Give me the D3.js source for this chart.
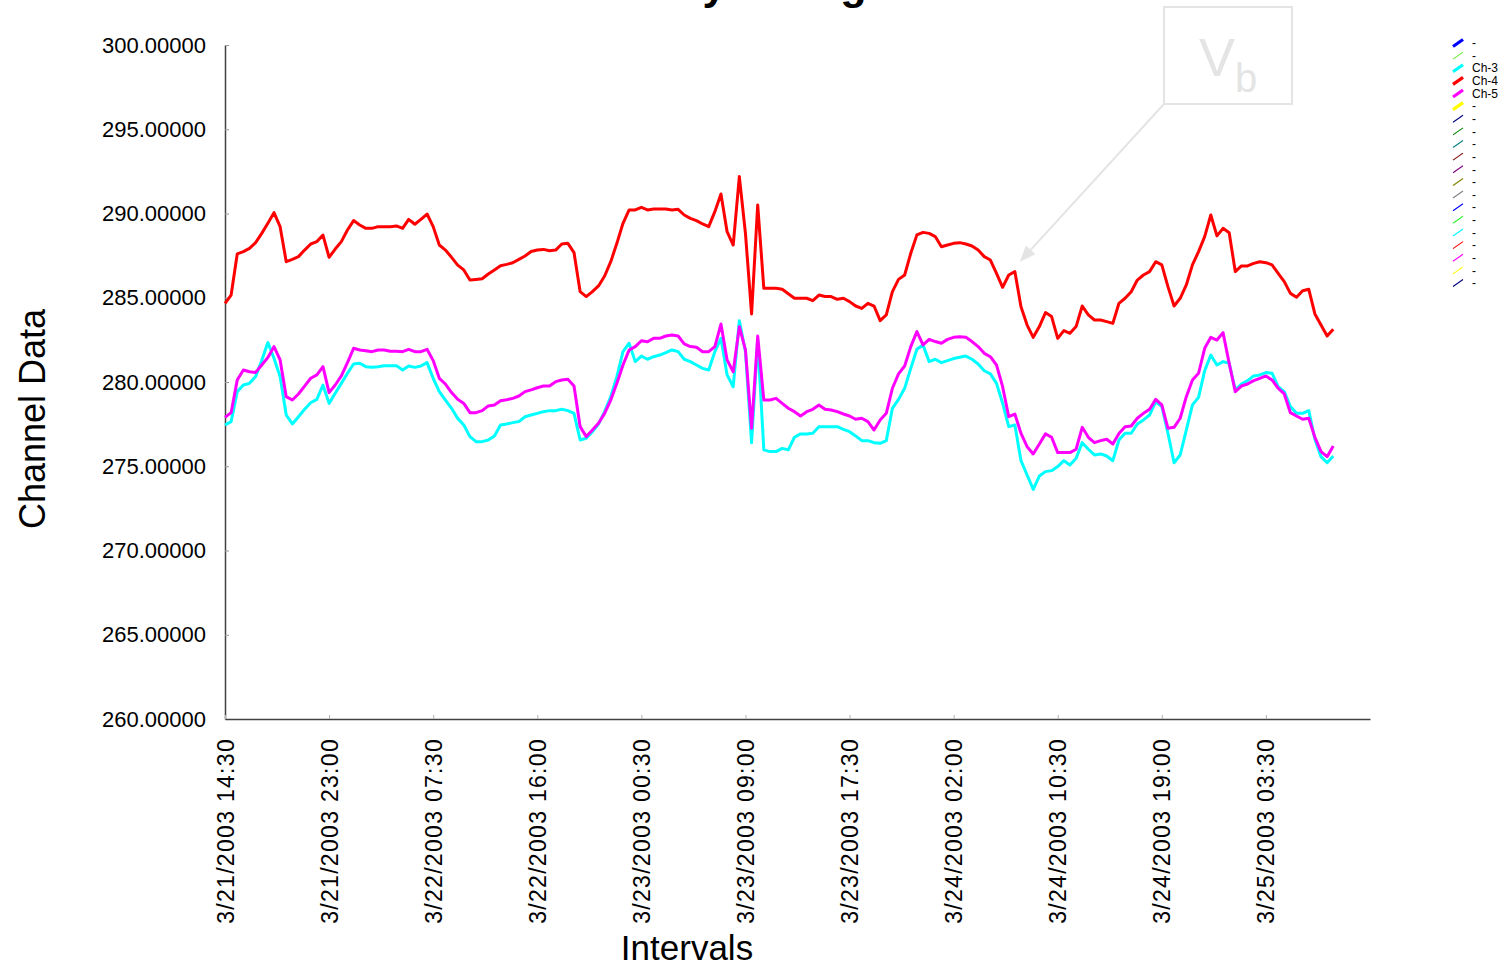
<!DOCTYPE html>
<html>
<head>
<meta charset="utf-8">
<script src="https://cdn.jsdelivr.net/npm/d3@7"></script>
<style>
  html, body { margin: 0; padding: 0; background: #ffffff; }
  svg { display: block; font-family: "Liberation Sans", Arial, sans-serif; }
</style>
</head>
<body>
<svg id="chart" width="1504" height="968"></svg>
<script>
// Half-hourly channel readings, 3/21/2003 14:30 onward
const ch4 = [
284.67, 285.16, 287.60, 287.74, 287.93, 288.27, 288.82, 289.42, 290.05, 289.22,
287.14, 287.28, 287.44, 287.83, 288.19, 288.33, 288.72, 287.40, 287.89, 288.33,
289.02, 289.58, 289.32, 289.12, 289.12, 289.22, 289.22, 289.22, 289.26, 289.12,
289.65, 289.36, 289.65, 289.97, 289.22, 288.13, 287.83, 287.40, 286.94, 286.65,
286.05, 286.09, 286.13, 286.41, 286.65, 286.90, 286.98, 287.08, 287.28, 287.48,
287.74, 287.83, 287.87, 287.79, 287.83, 288.19, 288.23, 287.68, 285.36, 285.07,
285.36, 285.70, 286.29, 287.14, 288.23, 289.42, 290.21, 290.21, 290.37, 290.21,
290.27, 290.27, 290.27, 290.21, 290.25, 289.91, 289.71, 289.58, 289.38, 289.22,
290.11, 291.16, 288.92, 288.13, 292.19, 288.82, 284.04, 290.51, 285.56, 285.56,
285.56, 285.50, 285.24, 284.97, 284.97, 284.97, 284.83, 285.16, 285.07, 285.07,
284.91, 284.97, 284.77, 284.51, 284.37, 284.67, 284.51, 283.64, 283.98, 285.36,
286.09, 286.35, 287.64, 288.73, 288.88, 288.82, 288.63, 288.03, 288.13, 288.23,
288.27, 288.19, 288.07, 287.83, 287.44, 287.24, 286.45, 285.62, 286.35, 286.55,
284.47, 283.38, 282.65, 283.29, 284.12, 283.88, 282.59, 283.05, 282.89, 283.29,
284.51, 283.98, 283.68, 283.68, 283.58, 283.48, 284.67, 284.97, 285.36, 286.05,
286.35, 286.55, 287.14, 286.95, 285.66, 284.51, 284.97, 285.76, 286.95, 287.74,
288.63, 289.91, 288.67, 289.12, 288.86, 286.55, 286.89, 286.89, 287.04, 287.14,
287.08, 286.95, 286.45, 285.96, 285.26, 285.03, 285.42, 285.50, 284.04, 283.38,
282.73, 283.13
];

const ch3 = [
277.45, 277.65, 279.43, 279.82, 279.92, 280.32, 281.27, 282.34, 281.41, 280.32,
278.04, 277.51, 277.94, 278.38, 278.77, 278.97, 279.82, 278.73, 279.33, 279.92,
280.52, 281.07, 281.11, 280.91, 280.87, 280.91, 280.97, 280.97, 280.97, 280.71,
280.95, 280.87, 280.95, 281.15, 280.22, 279.43, 278.93, 278.44, 277.84, 277.45,
276.76, 276.46, 276.46, 276.56, 276.80, 277.45, 277.51, 277.59, 277.65, 277.94,
278.04, 278.14, 278.24, 278.30, 278.30, 278.38, 278.30, 278.14, 276.56, 276.66,
277.05, 277.51, 278.24, 279.13, 280.32, 281.80, 282.30, 281.21, 281.54, 281.35,
281.50, 281.60, 281.74, 281.90, 281.80, 281.35, 281.21, 281.01, 280.81, 280.71,
281.80, 282.59, 280.42, 279.72, 283.64, 281.80, 276.40, 282.50, 275.97, 275.87,
275.87, 276.06, 275.97, 276.72, 276.92, 276.92, 276.96, 277.35, 277.35, 277.35,
277.35, 277.19, 277.05, 276.80, 276.52, 276.52, 276.40, 276.36, 276.52, 278.44,
278.97, 279.63, 280.81, 281.94, 282.20, 281.21, 281.35, 281.15, 281.27, 281.39,
281.47, 281.54, 281.35, 281.07, 280.67, 280.48, 279.92, 278.74, 277.35, 277.45,
275.33, 274.48, 273.63, 274.42, 274.68, 274.74, 274.98, 275.33, 275.08, 275.47,
276.40, 276.01, 275.67, 275.73, 275.61, 275.33, 276.56, 276.96, 276.96, 277.51,
277.75, 278.04, 278.83, 278.54, 276.96, 275.21, 275.67, 277.15, 278.64, 279.09,
280.67, 281.60, 281.01, 281.21, 281.11, 279.53, 279.88, 280.08, 280.36, 280.42,
280.56, 280.52, 279.72, 279.43, 278.54, 278.14, 278.14, 278.30, 276.60, 275.57,
275.21, 275.61
];

const ch5 = [
277.90, 278.18, 280.12, 280.71, 280.61, 280.57, 281.01, 281.45, 282.10, 281.31,
279.13, 278.93, 279.29, 279.76, 280.22, 280.42, 280.91, 279.37, 279.82, 280.36,
281.15, 282.00, 281.90, 281.86, 281.80, 281.90, 281.90, 281.82, 281.82, 281.80,
281.94, 281.80, 281.80, 281.94, 281.27, 280.22, 279.88, 279.37, 278.97, 278.73,
278.18, 278.18, 278.30, 278.58, 278.64, 278.89, 278.95, 279.03, 279.17, 279.43,
279.53, 279.66, 279.76, 279.76, 280.02, 280.12, 280.16, 279.76, 277.35, 276.76,
277.15, 277.55, 278.14, 278.93, 279.92, 281.01, 281.90, 282.10, 282.45, 282.39,
282.59, 282.59, 282.73, 282.79, 282.73, 282.26, 282.10, 282.06, 281.80, 281.80,
282.10, 283.44, 281.31, 280.61, 283.28, 281.90, 277.25, 282.73, 278.93, 278.93,
279.03, 278.73, 278.44, 278.24, 277.98, 278.24, 278.38, 278.64, 278.38, 278.34,
278.24, 278.10, 277.98, 277.79, 277.85, 277.65, 277.15, 277.75, 278.14, 279.63,
280.48, 280.95, 282.10, 282.99, 282.20, 282.53, 282.40, 282.30, 282.53, 282.65,
282.69, 282.65, 282.40, 282.10, 281.70, 281.50, 281.01, 279.72, 277.94, 278.10,
276.95, 276.16, 275.73, 276.32, 276.92, 276.72, 275.81, 275.81, 275.81, 276.01,
277.31, 276.72, 276.40, 276.52, 276.60, 276.32, 276.95, 277.35, 277.39, 277.85,
278.14, 278.38, 278.97, 278.64, 277.25, 277.31, 277.85, 279.13, 280.12, 280.52,
282.00, 282.65, 282.49, 282.93, 281.11, 279.43, 279.76, 279.88, 280.08, 280.22,
280.36, 280.12, 279.63, 279.29, 278.18, 277.98, 277.79, 277.85, 276.72, 275.87,
275.57, 276.20
];

// Category axis: one slot per half hour, a label every 17 slots
const slotCount = 187;
const tickIndex = [0, 17, 34, 51, 68, 85, 102, 119, 136, 153, 170];
const tickLabels = [
  "3/21/2003 14:30", "3/21/2003 23:00", "3/22/2003 07:30", "3/22/2003 16:00",
  "3/23/2003 00:30", "3/23/2003 09:00", "3/23/2003 17:30", "3/24/2003 02:00",
  "3/24/2003 10:30", "3/24/2003 19:00", "3/25/2003 03:30"
];
const yTicks = [260, 265, 270, 275, 280, 285, 290, 295, 300];

// Legend entries (unused channels are shown as "-")
const legendNames = ["-", "-", "Ch-3", "Ch-4", "Ch-5", "-", "-", "-", "-", "-",
                     "-", "-", "-", "-", "-", "-", "-", "-", "-", "-"];
const legendColors = ["#0000ff", "#66ee33", "#00ffff", "#ff0000", "#ff00ff", "#ffff00",
                      "#000080", "#008000", "#008080", "#800000", "#800080", "#808000",
                      "#808080", "#0000ff", "#33ee33", "#00ffff", "#ff0000", "#ff00ff",
                      "#ffff00", "#000080"];
const legendHeavy = [true, false, true, true, true, true, false, false, false, false,
                     false, false, false, false, false, false, false, false, false, false];

const svg = d3.select("#chart");
const margin = { left: 225, right: 1370, top: 45, bottom: 719 };

const x = d3.scaleLinear().domain([0, slotCount]).range([margin.left, margin.right]);
const y = d3.scaleLinear().domain([260, 300]).range([margin.bottom, margin.top]);

// Title (sits partly above the page edge)
svg.append("text")
  .attr("x", 757).attr("y", -1)
  .attr("text-anchor", "middle")
  .attr("font-size", 43).attr("font-weight", "bold")
  .attr("fill", "#000")
  .text("Daily Voltage");

// Y axis
const yAxis = svg.append("g")
  .attr("transform", `translate(${margin.left},0)`)
  .call(d3.axisLeft(y).tickValues(yTicks).tickFormat(d3.format(".5f"))
    .tickSize(-4).tickSizeOuter(0).tickPadding(19));
yAxis.select(".domain").attr("stroke", "#404040").attr("stroke-width", 1.5);
yAxis.selectAll(".tick line").attr("stroke", "#9a9a9a");
yAxis.selectAll(".tick text")
  .attr("font-size", 22).attr("fill", "#000")
  .attr("font-family", "'Liberation Sans', Arial, sans-serif");

// X axis
const xAxis = svg.append("g")
  .attr("transform", `translate(0,${margin.bottom})`)
  .call(d3.axisBottom(x).tickValues(tickIndex)
    .tickFormat((d, i) => tickLabels[i])
    .tickSize(-4).tickSizeOuter(0));
xAxis.select(".domain").attr("stroke", "#404040").attr("stroke-width", 1.5);
xAxis.selectAll(".tick line").attr("stroke", "#b0b0b0");
xAxis.selectAll(".tick text")
  .attr("transform", "rotate(-90)")
  .attr("x", -19).attr("y", 0).attr("dy", "0.35em")
  .attr("text-anchor", "end")
  .attr("font-size", 23).attr("fill", "#000")
  .attr("letter-spacing", "1.3px")
  .attr("font-family", "'Liberation Sans', Arial, sans-serif");

// Axis titles
svg.append("text")
  .attr("transform", "translate(45,419) rotate(-90)")
  .attr("text-anchor", "middle")
  .attr("font-size", 36).attr("fill", "#000")
  .text("Channel Data");

svg.append("text")
  .attr("x", 687).attr("y", 960)
  .attr("text-anchor", "middle")
  .attr("font-size", 35).attr("fill", "#000")
  .text("Intervals");

// Series lines
const line = d3.line().x((d, i) => x(i)).y(d => y(d));
const series = [
  { values: ch4, color: "#ff0000" },
  { values: ch3, color: "#00ffff" },
  { values: ch5, color: "#ff00ff" }
];
svg.append("g").selectAll("path").data(series).join("path")
  .attr("d", d => line(d.values))
  .attr("fill", "none")
  .attr("stroke", d => d.color)
  .attr("stroke-width", 3)
  .attr("stroke-linejoin", "round");

// Legend
const legend = svg.append("g").attr("transform", "translate(1453,43)");
const rows = legend.selectAll("g").data(legendNames).join("g")
  .attr("transform", (d, i) => `translate(0,${i * 12.63})`);
rows.append("line")
  .attr("x1", 0).attr("y1", 3.5).attr("x2", 10).attr("y2", -3.5)
  .attr("stroke", (d, i) => legendColors[i])
  .attr("stroke-width", (d, i) => legendHeavy[i] ? 3.2 : 1.1);
rows.append("text")
  .attr("x", 19).attr("y", 0).attr("dy", "0.35em")
  .attr("font-size", 12).attr("fill", "#000")
  .text(d => d);

// Callout box with arrow to the Ch-4 trace
const calloutIndex = 129;
const tipX = x(calloutIndex) + 5;
const tipY = y(ch4[calloutIndex]) - 10;
const boxL = 1164, boxT = 7, boxR = 1292, boxB = 104;
const callout = svg.append("g");
callout.append("rect")
  .attr("x", boxL).attr("y", boxT)
  .attr("width", boxR - boxL).attr("height", boxB - boxT)
  .attr("fill", "none").attr("stroke", "#e4e4e4").attr("stroke-width", 2);
const vb = callout.append("text").attr("fill", "#e4e4e4");
vb.append("tspan").attr("x", 1199).attr("y", 76).attr("font-size", 54).text("V");
vb.append("tspan").attr("x", 1235).attr("y", 92).attr("font-size", 40).text("b");

const ang = Math.atan2(tipY - boxB, tipX - boxL);
const headLen = 16, headHalf = 6.5;
const baseX = tipX - headLen * Math.cos(ang), baseY = tipY - headLen * Math.sin(ang);
callout.append("line")
  .attr("x1", boxL).attr("y1", boxB).attr("x2", baseX).attr("y2", baseY)
  .attr("stroke", "#e4e4e4").attr("stroke-width", 2);
callout.append("path")
  .attr("d", d3.line()([
    [tipX, tipY],
    [baseX + headHalf * Math.sin(ang), baseY - headHalf * Math.cos(ang)],
    [baseX - headHalf * Math.sin(ang), baseY + headHalf * Math.cos(ang)]
  ]) + "Z")
  .attr("fill", "#e4e4e4");
</script>
</body>
</html>
